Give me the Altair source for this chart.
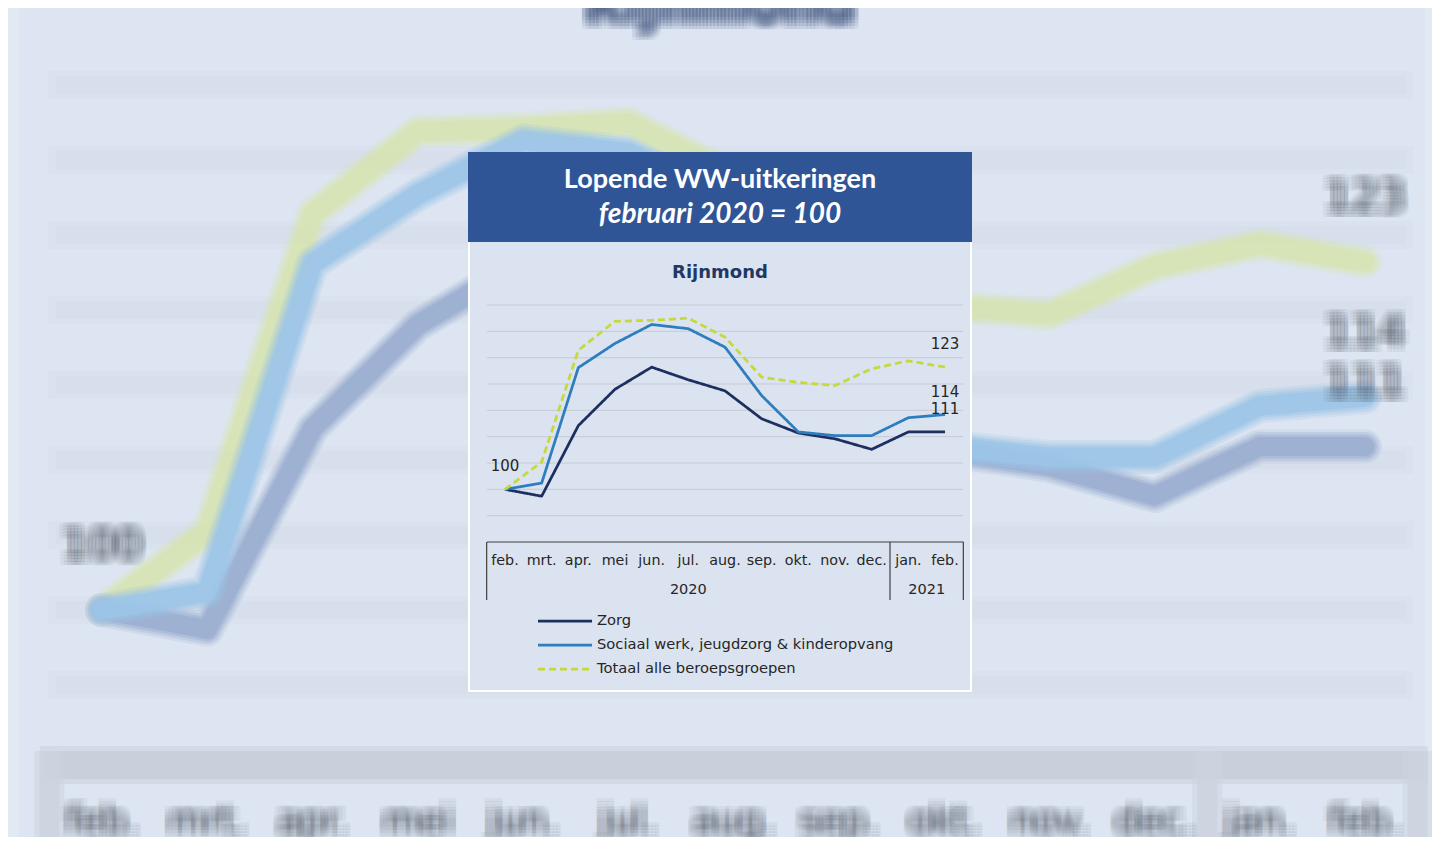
import altair as alt
import pandas as pd

# ---------------- data ----------------
months = ["feb.", "mrt.", "apr.", "mei", "jun.", "jul.", "aug.", "sep.", "okt.", "nov.", "dec.", "jan.", "feb."]
year_labels = ["2020", "2021"]
year_centers = [5, 11.5]          # month index where each year label is centred
table_edges = [-0.5, 10.5, 12.5]  # month-index positions of the category table separators
series = ["Zorg", "Sociaal werk, jeugdzorg & kinderopvang", "Totaal alle beroepsgroepen"]
zorg = [100, 98.7, 112.1, 119.0, 123.2, 120.8, 118.7, 113.4, 110.7, 109.6, 107.6, 110.9, 110.9]
sociaal = [100, 101.2, 123.1, 127.7, 131.3, 130.5, 127.0, 117.8, 110.9, 110.2, 110.2, 113.6, 114.2]
totaal = [100, 105.2, 126.4, 131.9, 132.1, 132.5, 128.9, 121.3, 120.3, 119.7, 122.9, 124.4, 123.2]
grid_values = [95, 100, 105, 110, 115, 120, 125, 130, 135]
title = "Lopende WW-uitkeringen"
subtitle = "februari 2020 = 100"
region = "Rijnmond"

colors = ["#1c2f5f", "#2e7dbf", "#c6d93b"]
bg_colors = ["#9aaed0", "#9cc5e7", "#d6e4b4"]
dashes = [[1, 0], [1, 0], [7, 4]]

values = [zorg, sociaal, totaal]
rows = []
for name, vals in zip(series, values):
    for i, v in enumerate(vals):
        rows.append({"idx": i, "month": months[i], "series": name, "value": v})
lines_df = pd.DataFrame(rows)

lab_rows = [{"idx": 0, "value": zorg[0], "text": f"{round(zorg[0])}"}]
for vals in values:
    lab_rows.append({"idx": 12, "value": vals[-1], "text": f"{round(vals[-1])}"})
labels_df = pd.DataFrame(lab_rows)

month_df = pd.DataFrame({"idx": list(range(len(months))), "month": months})
year_df = pd.DataFrame({"idx": year_centers, "year": year_labels})
grid_df = pd.DataFrame({"v": grid_values})
edge_df = pd.DataFrame({"e": table_edges})
legend_df = pd.DataFrame({"series": series, "rank": list(range(len(series)))})
one = pd.DataFrame({"d": [0]})

# ---------------- scales ----------------
IX = alt.Scale(domain=[0, 12], range=[497, 937], zero=False, nice=False)
IY = alt.Scale(domain=[95, 135], range=[507.7, 297], zero=False, nice=False)
BX = alt.Scale(domain=[0, 12], range=[94, 1357], zero=False, nice=False)
BY = alt.Scale(domain=[95, 135], range=[677, 77], zero=False, nice=False)
LY = alt.Scale(domain=[0, 2], range=[613, 661], zero=False, nice=False)
COL = alt.Scale(domain=series, range=colors)
BCOL = alt.Scale(domain=series, range=bg_colors)
DASH = alt.Scale(domain=series, range=dashes)

FONT = "DejaVu Sans"
TXT = "#262626"
blur_offsets = [(dx, dy) for dx in (-7, -3.5, 0, 3.5, 7) for dy in (-6, -3, 0, 3, 6)]
BLUR_OP = 0.055

layers = []

# ------------- blurred background (enlarged copy of the chart) -------------
layers.append(alt.Chart(one).mark_rect(color="#e3e9f3").encode(
    x=alt.value(0), x2=alt.value(11), y=alt.value(0), y2=alt.value(829)))
layers.append(alt.Chart(one).mark_rect(color="#e3e9f3").encode(
    x=alt.value(1417), x2=alt.value(1424), y=alt.value(0), y2=alt.value(829)))

layers.append(alt.Chart(grid_df).mark_rule(color="#d3d9e8", strokeWidth=28, opacity=0.3).encode(
    y=alt.Y("v:Q", scale=BY, axis=None), x=alt.value(40), x2=alt.value(1405)))
layers.append(alt.Chart(grid_df).mark_rule(color="#d3d9e8", strokeWidth=18, opacity=0.35).encode(
    y=alt.Y("v:Q", scale=BY, axis=None), x=alt.value(48), x2=alt.value(1398)))

# background category table
layers.append(alt.Chart(one).mark_rect(color="#c9d0dc", opacity=0.5).encode(
    x=alt.value(32), x2=alt.value(1420), y=alt.value(738), y2=alt.value(776)))
layers.append(alt.Chart(one).mark_rect(color="#c9d0dc").encode(
    x=alt.value(36), x2=alt.value(1416), y=alt.value(743), y2=alt.value(771)))
layers.append(alt.Chart(edge_df).mark_rule(color="#ccd3df", strokeWidth=30, opacity=0.5).encode(
    x=alt.X("e:Q", scale=BX, axis=None), y=alt.value(743), y2=alt.value(829)))
layers.append(alt.Chart(edge_df).mark_rule(color="#ccd3df", strokeWidth=20, opacity=0.8).encode(
    x=alt.X("e:Q", scale=BX, axis=None), y=alt.value(743), y2=alt.value(829)))

bg_order = [2, 0, 1]
for k in bg_order:
    sub = lines_df[lines_df["series"] == series[k]]
    for w, op in [(34, 0.2), (29, 0.3), (24, 0.45), (19, 0.8)]:
        layers.append(alt.Chart(sub).mark_line(strokeWidth=w, opacity=op, strokeJoin="round", strokeCap="round").encode(
            x=alt.X("idx:Q", scale=BX, axis=None),
            y=alt.Y("value:Q", scale=BY, axis=None),
            color=alt.Color("series:N", scale=BCOL, legend=None)))

for dx, dy in blur_offsets:
    layers.append(alt.Chart(labels_df).mark_text(font=FONT, fontSize=42, color="#4a505c",
                                                 opacity=BLUR_OP, dx=dx, dy=dy - 64, baseline="middle").encode(
        x=alt.X("idx:Q", scale=BX, axis=None), y=alt.Y("value:Q", scale=BY, axis=None), text="text:N"))
    layers.append(alt.Chart(month_df).mark_text(font=FONT, fontSize=37, color="#4a505c",
                                                opacity=BLUR_OP, dx=dx, dy=dy, baseline="middle").encode(
        x=alt.X("idx:Q", scale=BX, axis=None), y=alt.value(814), text="month:N"))
    layers.append(alt.Chart(pd.DataFrame({"t": [region]})).mark_text(
        font=FONT, fontSize=51, fontWeight="bold", color="#2a4070", opacity=BLUR_OP,
        dx=dx, dy=dy, baseline="alphabetic").encode(x=alt.value(712), y=alt.value(15), text="t:N"))

# ------------- inset chart -------------
layers.append(alt.Chart(one).mark_rect(color="#dae3ef", stroke="white", strokeWidth=2).encode(
    x=alt.value(461), x2=alt.value(963), y=alt.value(145), y2=alt.value(683)))
layers.append(alt.Chart(one).mark_rect(color="#2f5597").encode(
    x=alt.value(460), x2=alt.value(964), y=alt.value(144), y2=alt.value(234)))

layers.append(alt.Chart(pd.DataFrame({"t": [title]})).mark_text(
    font="Lato", fontSize=27, fontWeight="bold", color="white", baseline="middle").encode(
    x=alt.value(712), y=alt.value(172), text="t:N"))
layers.append(alt.Chart(pd.DataFrame({"t": [subtitle]})).mark_text(
    font="Lato", fontSize=28, fontWeight="bold", fontStyle="italic", color="white", baseline="middle").encode(
    x=alt.value(712), y=alt.value(207), text="t:N"))
layers.append(alt.Chart(pd.DataFrame({"t": [region]})).mark_text(
    font=FONT, fontSize=18, fontWeight="bold", color="#1f3864", baseline="middle").encode(
    x=alt.value(712), y=alt.value(265), text="t:N"))

layers.append(alt.Chart(grid_df).mark_rule(color="#c6cbd4", strokeWidth=1).encode(
    y=alt.Y("v:Q", scale=IY, axis=None), x=alt.value(479), x2=alt.value(955)))

for k in [0, 1, 2]:
    sub = lines_df[lines_df["series"] == series[k]]
    layers.append(alt.Chart(sub).mark_line(strokeWidth=2.75, strokeJoin="round").encode(
        x=alt.X("idx:Q", scale=IX, axis=None),
        y=alt.Y("value:Q", scale=IY, axis=None),
        color=alt.Color("series:N", scale=COL, legend=None),
        strokeDash=alt.StrokeDash("series:N", scale=DASH, legend=None)))

layers.append(alt.Chart(labels_df).mark_text(font=FONT, fontSize=15, color=TXT, dy=-23, baseline="middle").encode(
    x=alt.X("idx:Q", scale=IX, axis=None), y=alt.Y("value:Q", scale=IY, axis=None), text="text:N"))

# category table
layers.append(alt.Chart(one).mark_rule(color="#404040", strokeWidth=1.2).encode(
    x=alt.value(479), x2=alt.value(955.5), y=alt.value(534)))
layers.append(alt.Chart(edge_df).mark_rule(color="#404040", strokeWidth=1.2).encode(
    x=alt.X("e:Q", scale=IX, axis=None), y=alt.value(534), y2=alt.value(592)))
layers.append(alt.Chart(month_df).mark_text(font=FONT, fontSize=14.3, color=TXT, baseline="middle").encode(
    x=alt.X("idx:Q", scale=IX, axis=None), y=alt.value(553), text="month:N"))
layers.append(alt.Chart(year_df).mark_text(font=FONT, fontSize=14.5, color=TXT, baseline="middle").encode(
    x=alt.X("idx:Q", scale=IX, axis=None), y=alt.value(582), text="year:N"))

# legend
layers.append(alt.Chart(legend_df).mark_rule(strokeWidth=2.75).encode(
    x=alt.value(530), x2=alt.value(584),
    y=alt.Y("rank:Q", scale=LY, axis=None),
    color=alt.Color("series:N", scale=COL, legend=None),
    strokeDash=alt.StrokeDash("series:N", scale=DASH, legend=None)))
layers.append(alt.Chart(legend_df).mark_text(font=FONT, fontSize=14.7, color=TXT, align="left", baseline="middle").encode(
    x=alt.value(589), y=alt.Y("rank:Q", scale=LY, axis=None), text="series:N"))

chart = alt.layer(*layers).resolve_scale(
    x="independent", y="independent", color="independent", strokeDash="independent"
).properties(
    width=1424, height=829, padding=0, background="#dce5f1",
    autosize=alt.AutoSizeParams(type="none")
).configure_view(stroke=None)

chart.save("out.html", embed_options={"renderer": "svg", "actions": False})
